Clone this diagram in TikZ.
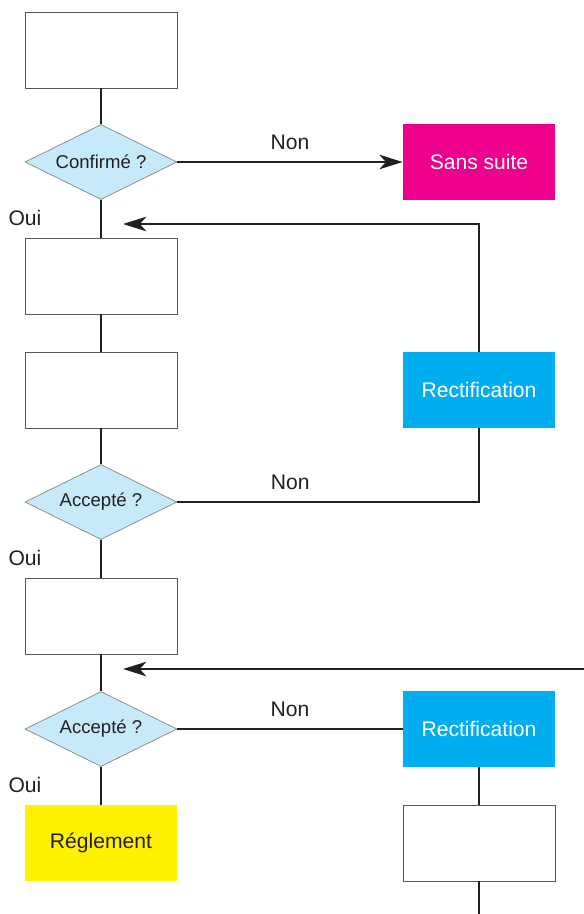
\documentclass[tikz,border=0pt]{standalone}
\usepackage{fontspec}
\setmainfont{Liberation Sans}
\usetikzlibrary{shapes.geometric, arrows.meta}
\definecolor{ink}{HTML}{231F20}
\definecolor{paleblue}{HTML}{C7EAFB}
\definecolor{procyan}{HTML}{00AEEF}
\definecolor{promagenta}{HTML}{EC008C}
\definecolor{proyellow}{HTML}{FFF200}

\begin{document}
\begin{tikzpicture}[x=0.025cm, y=-0.025cm,
          every node/.style={font=\fontsize{15}{18}\selectfont, text=ink},
          box/.style={draw=ink!75, line width=0.6pt, fill=white, minimum width=3.8cm, minimum height=1.9cm},
          colored/.style={minimum width=3.8cm, minimum height=1.9cm, text=white},
          question/.style={diamond, aspect=2, draw=ink!55, line width=0.5pt, fill=paleblue,
            minimum width=3.8cm, minimum height=1.875cm, inner sep=0pt, font=\fontsize{13.2}{15}\selectfont},
          flow/.style={draw=ink, line width=1.9pt},
          arrow/.style={flow, -{Stealth[length=5.8mm, width=3.6mm, inset=1.6mm]}},
          answer/.style={above=8pt, inner sep=0pt}
        ]
        \useasboundingbox (0,0) rectangle (584,914);

        % Left column
        \node[box] (box1) at (101,50) {};
        \node[question] (conf) at (101,162) {Confirmé ?};
        \node[box] (box2) at (101,276) {};
        \node[box] (box3) at (101,390) {};
        \node[question] (acc1) at (101,502) {Accepté ?};
        \node[box] (box4) at (101,616) {};
        \node[question] (acc2) at (101,729) {Accepté ?};
        \node[colored, fill=proyellow, text=ink] (regl) at (101,843) {Réglement};

        % Right column
        \node[colored, fill=promagenta] (sans) at (479,162) {Sans suite};
        \node[colored, fill=procyan] (rect1) at (479,390) {Rectification};
        \node[colored, fill=procyan] (rect2) at (479,729) {Rectification};
        \node[box] (box5) at (479,843) {};

        % Oui labels
        \node (oui1) at (25,218) {Oui};
        \node (oui2) at (25,558) {Oui};
        \node (oui3) at (25,785) {Oui};

        % Free ends
        \coordinate (back1) at (123,224);
        \coordinate (loop) at (584,669);
        \coordinate (back2) at (123,669);
        \coordinate (exit) at (479,914);

        % Main line
        \draw[flow] (box1) -- (conf);
        \draw[flow] (conf) -- (box2);
        \draw[flow] (box2) -- (box3);
        \draw[flow] (box3) -- (acc1);
        \draw[flow] (acc1) -- (box4);
        \draw[flow] (box4) -- (acc2);
        \draw[flow] (acc2) -- (regl);

        % Branches
        \draw[arrow] (conf.east) -- node[answer] {Non} (sans.west);
        \draw[flow] (acc1.east) -| node[answer, pos=0.187] {Non} (rect1.south);
        \draw[arrow] (rect1.north) |- (back1);
        \draw[flow] (acc2.east) -- node[answer] {Non} (rect2.west);
        \draw[flow] (rect2) -- (box5);
        \draw[flow] (box5.south) -- (exit);
        \draw[arrow] (loop) -- (back2);

      \end{tikzpicture}
\end{document}
